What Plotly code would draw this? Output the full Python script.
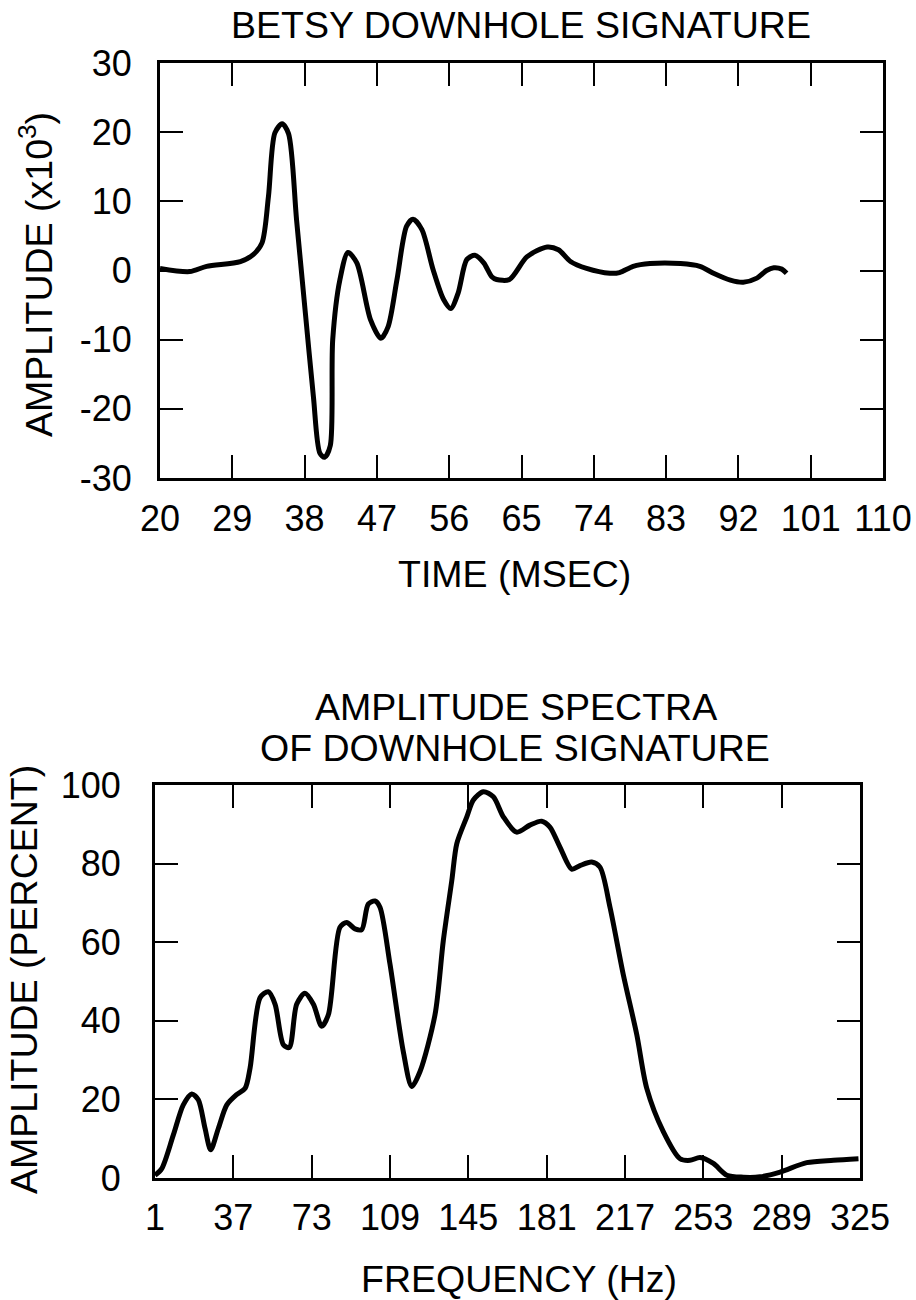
import plotly.graph_objects as go

# ---- data: top panel (time signature) ----
time_ms = [20, 23.7, 25.8, 30, 31.6, 32.7, 33.5, 34.3, 35.2, 36.0, 37.0, 38.1, 39.1, 39.9,
           40.5, 41.2, 41.5, 42.4, 43.4, 44.5, 46.2, 47.5, 48.4, 49.5, 50.7, 51.5, 52.6,
           54.0, 55.3, 56.2, 57.1, 58.2, 59.2, 60.3, 61.3, 61.9, 63.5, 65.7, 68.2, 69.6,
           71.1, 73.1, 76.0, 77.2, 78.9, 81.0, 84.8, 87.2, 88.9, 91.0, 92.6, 94.3, 95.5,
           96.4, 97.4, 98.0]
amp_k = [0.3, -0.15, 0.6, 1.3, 2.3, 4.0, 10.7, 19.9, 21.2, 19.8, 7.3, -6.2, -18.3, -26.4,
         -27.0, -25.3, -10.0, -1.3, 2.6, 1.1, -7.1, -9.8, -8.1, -1.3, 6.4, 7.4, 5.9, 0.1,
         -4.2, -5.5, -3.3, 1.6, 2.2, 1.1, -0.9, -1.3, -1.3, 2.0, 3.4, 3.0, 1.3, 0.3, -0.4,
         -0.3, 0.6, 1.0, 1.0, 0.6, -0.4, -1.4, -1.7, -1.1, 0.0, 0.4, 0.2, -0.4]

# ---- data: bottom panel (amplitude spectrum) ----
freq_hz = [1, 4.1, 9.4, 14.0, 17.9, 20.9, 24.0, 26.6, 30.1, 34.0, 38.5, 42.4, 44.7, 49.3,
           53.1, 56.2, 60.0, 62.7, 66.1, 69.9, 73.8, 77.6, 80.7, 86.0, 89.1, 92.9, 96.0,
           99.0, 102.1, 104.4, 109.0, 115.1, 119.0, 122.8, 129.7, 133.5, 137.4, 139.7,
           144.3, 147.3, 151.9, 156.5, 161.1, 167.2, 173.3, 178.7, 182.5, 187.1, 192.5,
           196.3, 201.7, 205.5, 210.1, 216.2, 222.4, 227.0, 234.6, 242.3, 246.9, 251.5,
           257.6, 263.8, 271.4, 279.1, 288.3, 300.5, 312.8, 324.3]
amp_pct = [0.7, 2.4, 10.9, 18.6, 21.4, 19.9, 12.6, 7.2, 12.6, 18.6, 21.2, 22.8, 28.0, 45.9,
           47.4, 44.2, 33.9, 33.2, 44.2, 47.0, 44.2, 38.6, 41.6, 63.8, 65.0, 63.4, 63.2,
           69.7, 70.5, 68.9, 54.4, 32.2, 23.3, 27.1, 41.6, 60.4, 75.7, 85.1, 91.9, 96.2,
           98.3, 97.0, 91.9, 88.0, 89.8, 90.8, 89.3, 84.2, 78.6, 79.5, 80.4, 79.1, 68.9,
           51.8, 36.5, 22.8, 11.8, 4.9, 4.5, 5.2, 3.7, 0.7, 0.2, 0.3, 1.5, 3.9, 4.5, 4.9]

top_x_ticks = [20, 29, 38, 47, 56, 65, 74, 83, 92, 101, 110]
top_y_ticks = [-30, -20, -10, 0, 10, 20, 30]
bot_x_ticks = [1, 37, 73, 109, 145, 181, 217, 253, 289, 325]
bot_y_ticks = [0, 20, 40, 60, 80, 100]

W, H = 916, 1300
FONT = "Liberation Sans, Arial, Helvetica, sans-serif"


def px(x):
    return x / W


def py(y):
    return 1 - y / H


fig = go.Figure()
fig.add_trace(go.Scatter(x=time_ms, y=amp_k, mode="lines",
                         line=dict(color="black", width=5, shape="spline", smoothing=0.8),
                         xaxis="x", yaxis="y", showlegend=False, hoverinfo="skip"))
fig.add_trace(go.Scatter(x=freq_hz, y=amp_pct, mode="lines",
                         line=dict(color="black", width=5, shape="spline", smoothing=0.8),
                         xaxis="x2", yaxis="y2", showlegend=False, hoverinfo="skip"))

axis_common = dict(showline=True, linecolor="black", linewidth=3, mirror="allticks",
                   ticks="inside", ticklen=23, tickwidth=2, tickcolor="black",
                   showgrid=False, zeroline=False, automargin=False,
                   tickfont=dict(family=FONT, size=36, color="black"))


def labels(vals):
    return [str(v) for v in vals]   # plain hyphen-minus as in the original


fig.update_layout(
    width=W, height=H,
    margin=dict(l=0, r=0, t=0, b=0),
    paper_bgcolor="white", plot_bgcolor="white",
    font=dict(family=FONT, color="black"),
    xaxis=dict(domain=[px(160), px(883)], range=[20, 110], tickvals=top_x_ticks,
               ticktext=labels(top_x_ticks),
               anchor="y", ticklabelstandoff=7, **axis_common),
    yaxis=dict(domain=[py(478), py(63)], range=[-30, 30], tickvals=top_y_ticks,
               ticktext=labels(top_y_ticks),
               anchor="x", ticklabelstandoff=18, **axis_common),
    xaxis2=dict(domain=[px(155), px(860)], range=[1, 325], tickvals=bot_x_ticks,
                ticktext=labels(bot_x_ticks),
                anchor="y2", ticklabelstandoff=6, **axis_common),
    yaxis2=dict(domain=[py(1178), py(785)], range=[0, 100], tickvals=bot_y_ticks,
                ticktext=labels(bot_y_ticks),
                anchor="x2", ticklabelstandoff=24, **axis_common),
)

TXT = dict(family=FONT, size=37.5, color="black")
ann = [
    dict(text="BETSY DOWNHOLE SIGNATURE", x=px(521), y=py(25)),
    dict(text="TIME (MSEC)", x=px(514), y=py(574)),
    dict(text="AMPLITUDE (x10<sup>3</sup>)", x=px(36), y=py(275), textangle=-90),
    dict(text="AMPLITUDE SPECTRA", x=px(516), y=py(707)),
    dict(text="OF DOWNHOLE SIGNATURE", x=px(515), y=py(748)),
    dict(text="FREQUENCY (Hz)", x=px(519), y=py(1279)),
    dict(text="AMPLITUDE (PERCENT)", x=px(24), y=py(980), textangle=-90),
]
fig.update_layout(annotations=[dict(xref="paper", yref="paper", xanchor="center",
                                    yanchor="middle", showarrow=False, font=TXT, **a)
                               for a in ann])

fig.write_html("out.html")
